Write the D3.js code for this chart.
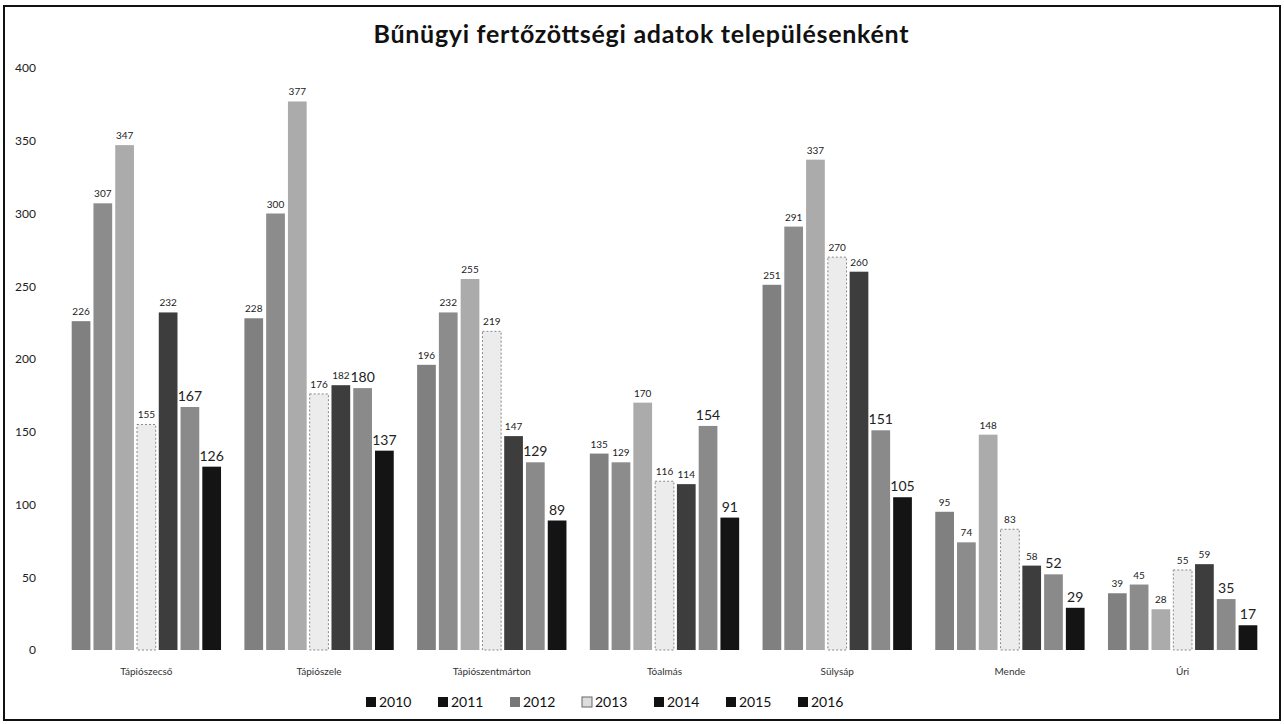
<!DOCTYPE html>
<html>
<head>
<meta charset="utf-8">
<script src="https://d3js.org/d3.v7.min.js"></script>
<style>
  body { margin: 0; background: #fff; }
  text { font-family: Lato, "Open Sans", sans-serif; }
</style>
</head>
<body>
<div id="chart"></div>
<script>
// Data
var towns = ["Tápiószecső", "Tápiószele", "Tápiószentmárton", "Tóalmás", "Sülysáp", "Mende", "Úri"];
var years = ["2010", "2011", "2012", "2013", "2014", "2015", "2016"];
var v2010 = [226, 228, 196, 135, 251, 95, 39];
var v2011 = [307, 300, 232, 129, 291, 74, 45];
var v2012 = [347, 377, 255, 170, 337, 148, 28];
var v2013 = [155, 176, 219, 116, 270, 83, 55];
var v2014 = [232, 182, 147, 114, 260, 58, 59];
var v2015 = [167, 180, 129, 154, 151, 52, 35];
var v2016 = [126, 137, 89, 91, 105, 29, 17];
var yTicks = [0, 50, 100, 150, 200, 250, 300, 350, 400];

var series = [v2010, v2011, v2012, v2013, v2014, v2015, v2016];
var colors = ["#808080", "#8c8c8c", "#ababab", "#ececec", "#3d3d3d", "#8a8a8a", "#141414"];

var svgWidth = 1284;
var svgHeight = 724;

var svg = d3.select("#chart")
  .append("svg")
  .attr("width", svgWidth)
  .attr("height", svgHeight);

// outer frame
svg.append("rect")
  .attr("x", 4).attr("y", 6)
  .attr("width", 1276).attr("height", 714)
  .attr("fill", "none")
  .attr("stroke", "#111")
  .attr("stroke-width", 2);

svg.append("text")
  .attr("x", 641).attr("y", 43)
  .attr("text-anchor", "middle")
  .attr("font-size", 25)
  .attr("font-weight", "bold")
  .attr("fill", "#111")
  .attr("textLength", 535)
  .attr("lengthAdjust", "spacing")
  .text("Bűnügyi fertőzöttségi adatok településenként");

var x0 = d3.scaleBand()
  .domain(towns)
  .range([60, 1269])
  .paddingInner(0.1)
  .paddingOuter(0.05);

var x1 = d3.scaleBand()
  .domain(years)
  .range([0, x0.bandwidth()])
  .padding(0.14);

var y = d3.scaleLinear()
  .domain([0, 400])
  .range([650, 68]);

// y axis labels only, no line
var yAxis = svg.append("g")
  .attr("transform", "translate(38,0)")
  .call(d3.axisLeft(y).tickValues(yTicks).tickSize(0).tickPadding(2));
yAxis.select(".domain").remove();
yAxis.selectAll("text")
  .attr("font-size", 12)
  .attr("fill", "#222")
  .style("font-family", "Lato, sans-serif");

// x axis category labels
var xAxis = svg.append("g")
  .attr("transform", "translate(0,650)")
  .call(d3.axisBottom(x0).tickSize(0).tickPadding(18));
xAxis.select(".domain").remove();
xAxis.selectAll("text")
  .attr("font-size", 10)
  .attr("fill", "#333")
  .style("font-family", "Lato, sans-serif");

// bars
var rows = [];
towns.forEach(function(t, i) {
  years.forEach(function(yr, j) {
    rows.push({ town: t, year: yr, s: j, value: series[j][i] });
  });
});

var groups = svg.append("g");

groups.selectAll("rect")
  .data(rows)
  .enter()
  .append("rect")
  .attr("x", d => x0(d.town) + x1(d.year))
  .attr("y", d => y(d.value))
  .attr("width", x1.bandwidth())
  .attr("height", d => y(0) - y(d.value))
  .attr("fill", d => colors[d.s])
  .attr("stroke", d => d.s === 3 ? "#888" : "none")
  .attr("stroke-dasharray", d => d.s === 3 ? "2,2" : null);

// value labels - last two years drawn bigger like the original
groups.selectAll("text.val")
  .data(rows)
  .enter()
  .append("text")
  .attr("class", "val")
  .attr("x", d => x0(d.town) + x1(d.year) + x1.bandwidth() / 2)
  .attr("y", d => y(d.value) - 6)
  .attr("text-anchor", "middle")
  .attr("font-size", d => d.s >= 5 ? 14 : 10)
  .attr("fill", "#222")
  .text(d => d.value);

// legend
var legend = svg.append("g").attr("transform", "translate(366,707)");
var item = legend.selectAll("g")
  .data(years)
  .enter()
  .append("g")
  .attr("transform", (d, i) => `translate(${i * 72}, 0)`);

item.append("rect")
  .attr("x", 0).attr("y", -10)
  .attr("width", 10).attr("height", 10)
  .attr("fill", (d, i) => i === 3 ? "#ddd" : (i === 2 ? "#777" : "#111"))
  .attr("stroke", (d, i) => i === 3 ? "#666" : "none");

item.append("text")
  .attr("x", 13).attr("y", 0)
  .attr("font-size", 14)
  .attr("fill", "#111")
  .text(d => d);
</script>
</body>
</html>
